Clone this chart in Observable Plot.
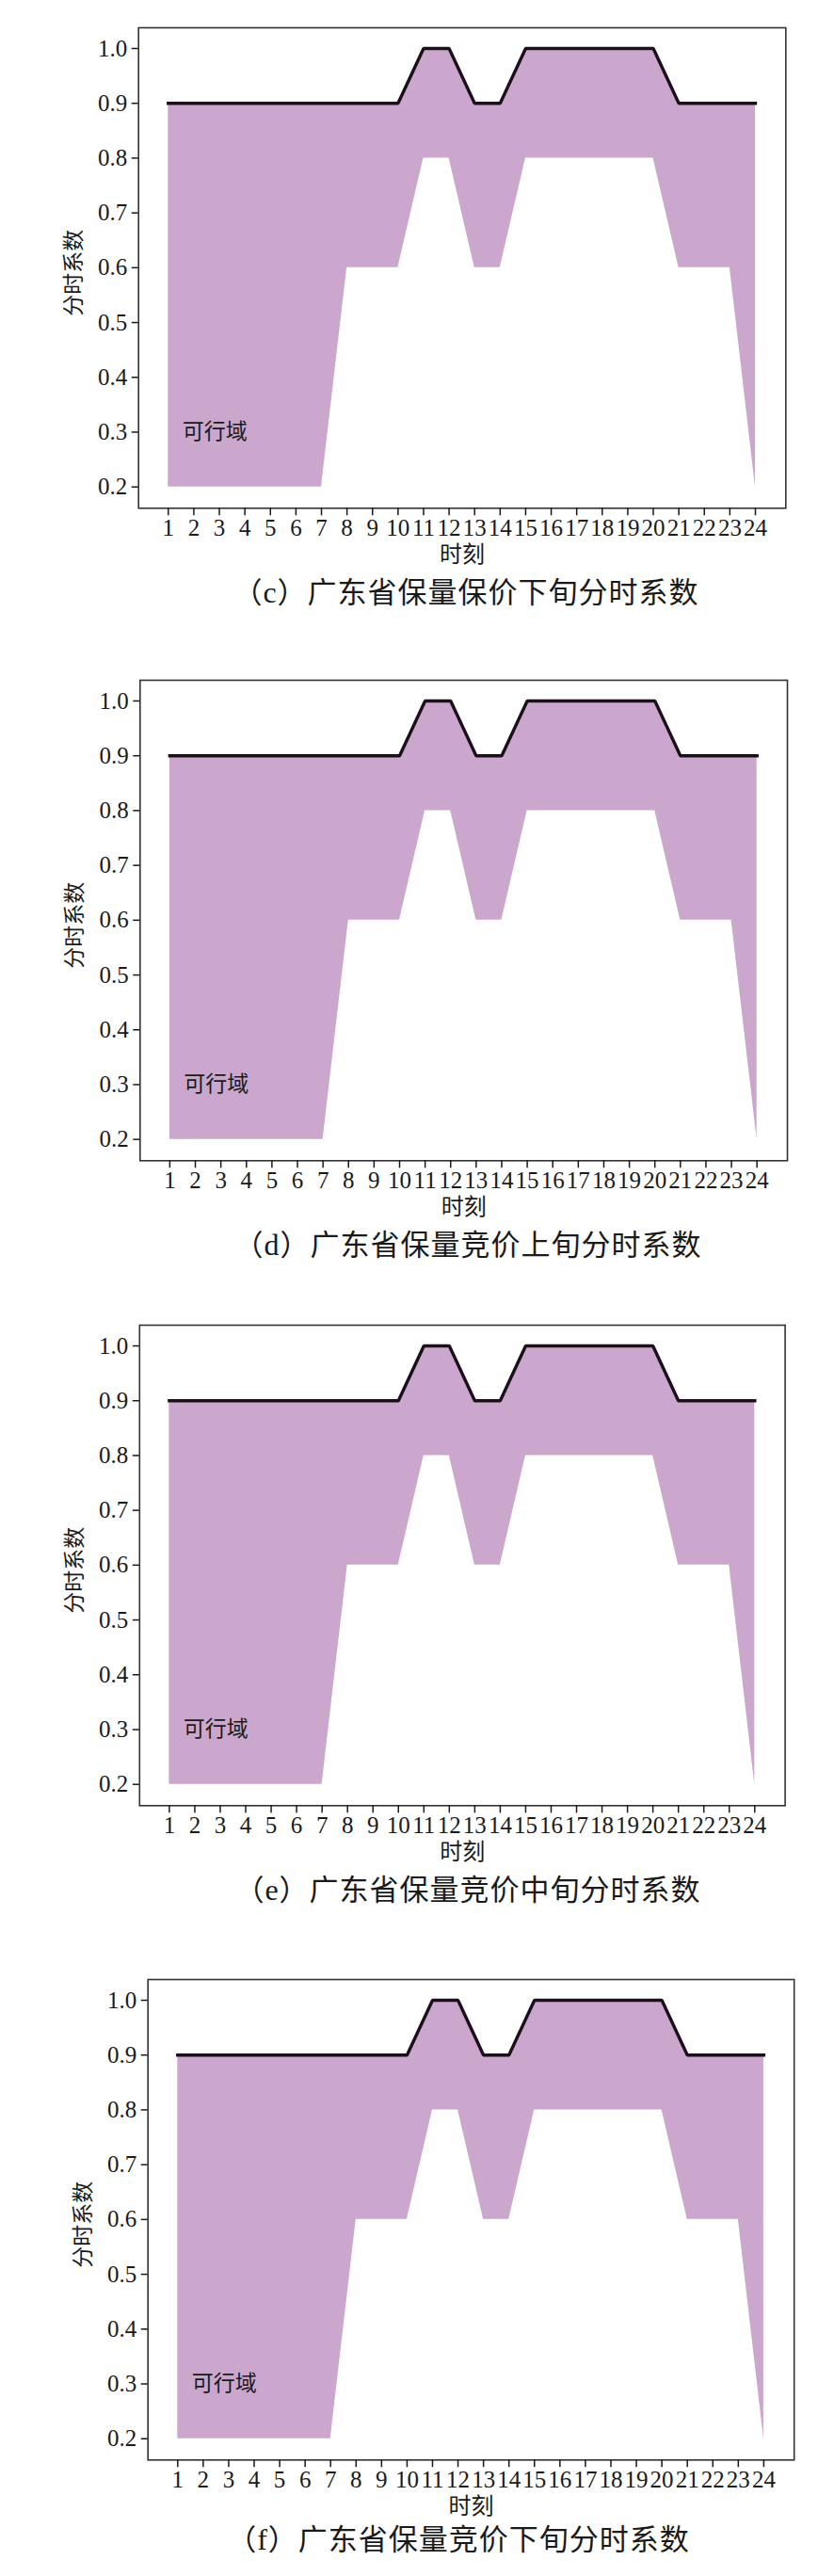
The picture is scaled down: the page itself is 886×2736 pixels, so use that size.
<!DOCTYPE html>
<html>
<head>
<meta charset="utf-8">
<script src="https://cdn.jsdelivr.net/npm/d3@7"></script>
<script src="https://cdn.jsdelivr.net/npm/@observablehq/plot@0.6"></script>
<style>
  html, body { margin: 0; padding: 0; background: #fff; }
  body { width: 886px; height: 2736px; position: relative; overflow: hidden; }
  .fig { position: absolute; left: 0; width: 886px; }
  .fig svg { display: block; }
  .cap { position: absolute; white-space: nowrap; font-family: "Noto Sans CJK SC", sans-serif;
         font-size: 31px; color: #1a1a1a; letter-spacing: 1px; transform: translate(-50%, -50%); line-height: 1; }
  .cap .lat { font-family: "Liberation Serif", serif; font-size: 32px; }
</style>
</head>
<body>
<script>
// ---- data ----
const hours = [1, 2, 3, 4, 5, 6, 7, 8, 9, 10, 11, 12, 13, 14, 15, 16, 17, 18, 19, 20, 21, 22, 23, 24];
const upper = [0.9, 0.9, 0.9, 0.9, 0.9, 0.9, 0.9, 0.9, 0.9, 0.9, 1.0, 1.0, 0.9, 0.9, 1.0, 1.0, 1.0, 1.0, 1.0, 1.0, 0.9, 0.9, 0.9, 0.9];
const lower = [0.2, 0.2, 0.2, 0.2, 0.2, 0.2, 0.2, 0.6, 0.6, 0.6, 0.8, 0.8, 0.6, 0.6, 0.8, 0.8, 0.8, 0.8, 0.8, 0.8, 0.6, 0.6, 0.6, 0.2];
const yTicks = [0.2, 0.3, 0.4, 0.5, 0.6, 0.7, 0.8, 0.9, 1.0];
const panelLetters = ["c", "d", "e", "f"];
const panelTitles = ["广东省保量保价下旬分时系数", "广东省保量竞价上旬分时系数", "广东省保量竞价中旬分时系数", "广东省保量竞价下旬分时系数"];
const yLabel = "分时系数";
const xLabel = "时刻";
const regionLabel = "可行域";

// ---- layout (page positions of each panel) ----
const layout = [
  { top: 0,      ml: 146.7, mr: 51.7, capX: 495, capY: 628 },
  { top: 692.7,  ml: 148.3, mr: 50.0, capX: 497, capY: 628 },
  { top: 1377.7, ml: 147.8, mr: 52.4, capX: 497, capY: 628 },
  { top: 2072.7, ml: 156.7, mr: 42.8, capX: 487, capY: 623 }
];

const table = hours.map((h, i) => ({ hour: h, high: upper[i], low: lower[i] }));
const cjk = '"Noto Sans CJK SC", sans-serif';
const serif = '"Liberation Serif", serif';

panelLetters.forEach((letter, p) => {
  const L = layout[p];
  const fig = document.createElement("div");
  fig.className = "fig";
  fig.style.top = L.top + "px";
  document.body.appendChild(fig);

  const chart = Plot.plot({
    width: 886,
    height: 605,
    marginLeft: L.ml,
    marginRight: L.mr,
    marginTop: 29,
    marginBottom: 65.7,
    insetLeft: 31.6,
    insetRight: 32.3,
    insetTop: 22,
    insetBottom: 22.6,
    style: { fontFamily: serif, fontSize: "25px", color: "#1a1a1a", background: "#fff", overflow: "visible" },
    x: { domain: [1, 24] },
    y: { domain: [0.2, 1.0] },
    marks: [
      Plot.areaY(table, { x: "hour", y1: "low", y2: "high", fill: "#cca7cd" }),
      Plot.lineY(table, { x: "hour", y: "high", stroke: "#1b0f1a", strokeWidth: 3.4, strokeLinecap: "square", strokeLinejoin: "miter" }),
      Plot.frame({ stroke: "#333", strokeWidth: 1.6 }),
      Plot.axisY({ ticks: yTicks, tickFormat: d3.format(".1f"), tickSize: 7, tickPadding: 5, label: null, strokeWidth: 1.5, fontSize: 25, fontFamily: serif, fill: "#1a1a1a" }),
      Plot.axisX({ ticks: hours, tickFormat: d => String(d), tickSize: 8, tickPadding: 3, label: null, strokeWidth: 1.5, fontSize: 25, fontFamily: serif, fill: "#1a1a1a" }),
      Plot.text([regionLabel], { x: 1.55, y: 0.3, text: d => d, textAnchor: "start", lineAnchor: "middle", fontFamily: cjk, fontSize: 23, fill: "#1a1a1a" }),
      Plot.text([yLabel], { frameAnchor: "left", dx: -68.7, dy: 5, rotate: -90, textAnchor: "middle", lineAnchor: "middle", text: d => d, fontFamily: cjk, fontSize: 23, fill: "#1a1a1a" }),
      Plot.text([xLabel], { frameAnchor: "bottom", dy: 49.5, textAnchor: "middle", lineAnchor: "middle", text: d => d, fontFamily: cjk, fontSize: 24, fill: "#1a1a1a" })
    ]
  });
  fig.appendChild(chart);

  const cap = document.createElement("div");
  cap.className = "cap";
  cap.style.left = L.capX + "px";
  cap.style.top = L.capY + "px";
  cap.appendChild(document.createTextNode("（"));
  const s = document.createElement("span");
  s.className = "lat";
  s.textContent = letter;
  cap.appendChild(s);
  cap.appendChild(document.createTextNode("）" + panelTitles[p]));
  fig.appendChild(cap);
});
</script>
</body>
</html>
